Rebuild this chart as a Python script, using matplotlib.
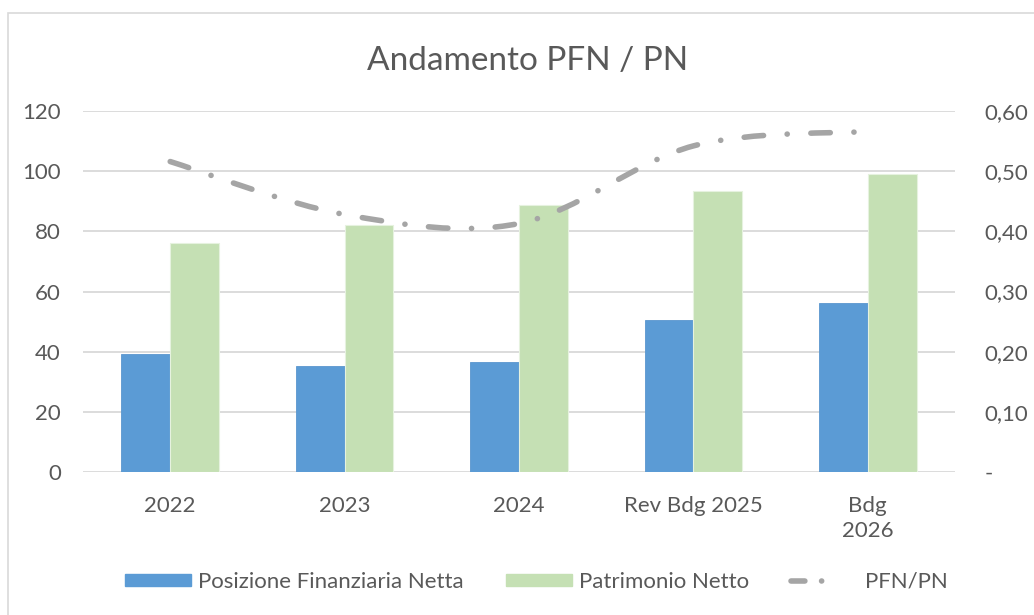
import matplotlib
matplotlib.use("Agg")
import matplotlib.pyplot as plt
from matplotlib.path import Path
from matplotlib.patches import PathPatch, Patch, Rectangle
from matplotlib.lines import Line2D
from matplotlib.ticker import FuncFormatter
import numpy as np

# data
categories = ["2022", "2023", "2024", "Rev Bdg 2025", "Bdg\n2026"]
pfn = [39.2, 35.2, 36.7, 50.6, 56.1]       # Posizione Finanziaria Netta
pn = [76.0, 82.2, 88.8, 93.4, 99.2]        # Patrimonio Netto
ratio = [0.516, 0.428, 0.413, 0.542, 0.566]  # PFN/PN

BLUE = "#5B9BD5"
GREEN = "#C5E0B4"
GREY_LINE = "#A5A5A5"
TEXT = "#595959"
GRID = "#D9D9D9"

plt.rcParams["font.family"] = ["Lato", "DejaVu Sans"]
plt.rcParams["lines.scale_dashes"] = False

W, H = 1034, 615
fig = plt.figure(figsize=(W / 100, H / 100), dpi=100)

# outer chart border (only top and left visible in the reference)
fig.patches.append(Rectangle((8 / W, -0.1), 1.2, 1 - 13 / H + 0.1,
                             transform=fig.transFigure, fill=False,
                             edgecolor="#D9D9D9", linewidth=1.2))

ax = fig.add_axes([83 / W, 1 - 472 / H, (955 - 83) / W, (472 - 111) / H])
ax2 = ax.twinx()

x = np.arange(len(categories))
bw = 0.28
ax.bar(x - bw / 2, pfn, bw, color=BLUE, edgecolor="#5A96CE", linewidth=0.6, zorder=2)
ax.bar(x + bw / 2, pn, bw, color=GREEN, edgecolor="#E6F2DF", linewidth=0.8, zorder=2)

ax.set_xlim(-0.5, len(categories) - 0.5)
ax.set_ylim(0, 120)
ax.set_yticks(range(0, 121, 20))
ax.yaxis.grid(True, color=GRID, linewidth=1.3)
ax.set_axisbelow(True)
for s in ax.spines.values():
    s.set_visible(False)
for s in ax2.spines.values():
    s.set_visible(False)
ax.tick_params(axis="both", length=0, labelsize=16, labelcolor=TEXT)
ax.tick_params(axis="y", pad=16)
ax.tick_params(axis="x", pad=17)
ax.set_xticks(x)
ax.set_xticklabels(categories, linespacing=1.35)

ax2.set_ylim(0, 0.6)
ax2.set_yticks(np.arange(0, 0.61, 0.1))
ax2.yaxis.set_major_formatter(FuncFormatter(
    lambda v, p: "-" if abs(v) < 1e-9 else f"{v:.2f}".replace(".", ",")))
ax2.tick_params(axis="y", length=0, labelsize=16, labelcolor=TEXT, pad=21)

# smoothed ratio line (Excel-style bezier through the points)
pts = np.column_stack([x, ratio])
verts = [tuple(pts[0])]
codes = [Path.MOVETO]
n = len(pts)
for i in range(n - 1):
    p0 = pts[max(i - 1, 0)]
    p1 = pts[i]
    p2 = pts[i + 1]
    p3 = pts[min(i + 2, n - 1)]
    c1 = p1 + (p2 - p0) / 6
    c2 = p2 - (p3 - p1) / 6
    verts += [tuple(c1), tuple(c2), tuple(p2)]
    codes += [Path.CURVE4] * 3
dash = (0, (14, 17, 0.1, 17))
line = PathPatch(Path(verts, codes), fill=False, edgecolor=GREY_LINE,
                 linewidth=4.0, linestyle=dash, capstyle="round", zorder=3)
ax2.add_patch(line)

fig.text(528 / W, 1 - 61 / H, "Andamento PFN / PN", ha="center", va="center",
         fontsize=24, color=TEXT)

handles = [
    Patch(facecolor=BLUE, edgecolor=BLUE),
    Patch(facecolor=GREEN, edgecolor=GREEN),
    Line2D([0], [0], color=GREY_LINE, linewidth=4.0,
           linestyle=(0, (10, 12, 0.1, 30)), dash_capstyle="round"),
]
labels = ["Posizione Finanziaria Netta", "Patrimonio Netto", "PFN/PN"]
fig.legend(handles, labels, loc="center", bbox_to_anchor=(536 / W, 1 - 582 / H),
           ncol=3, frameon=False, fontsize=16, labelcolor=TEXT,
           handlelength=3.0, handleheight=0.45, handletextpad=0.3,
           columnspacing=1.9)

fig.savefig("out.png", dpi=100)
